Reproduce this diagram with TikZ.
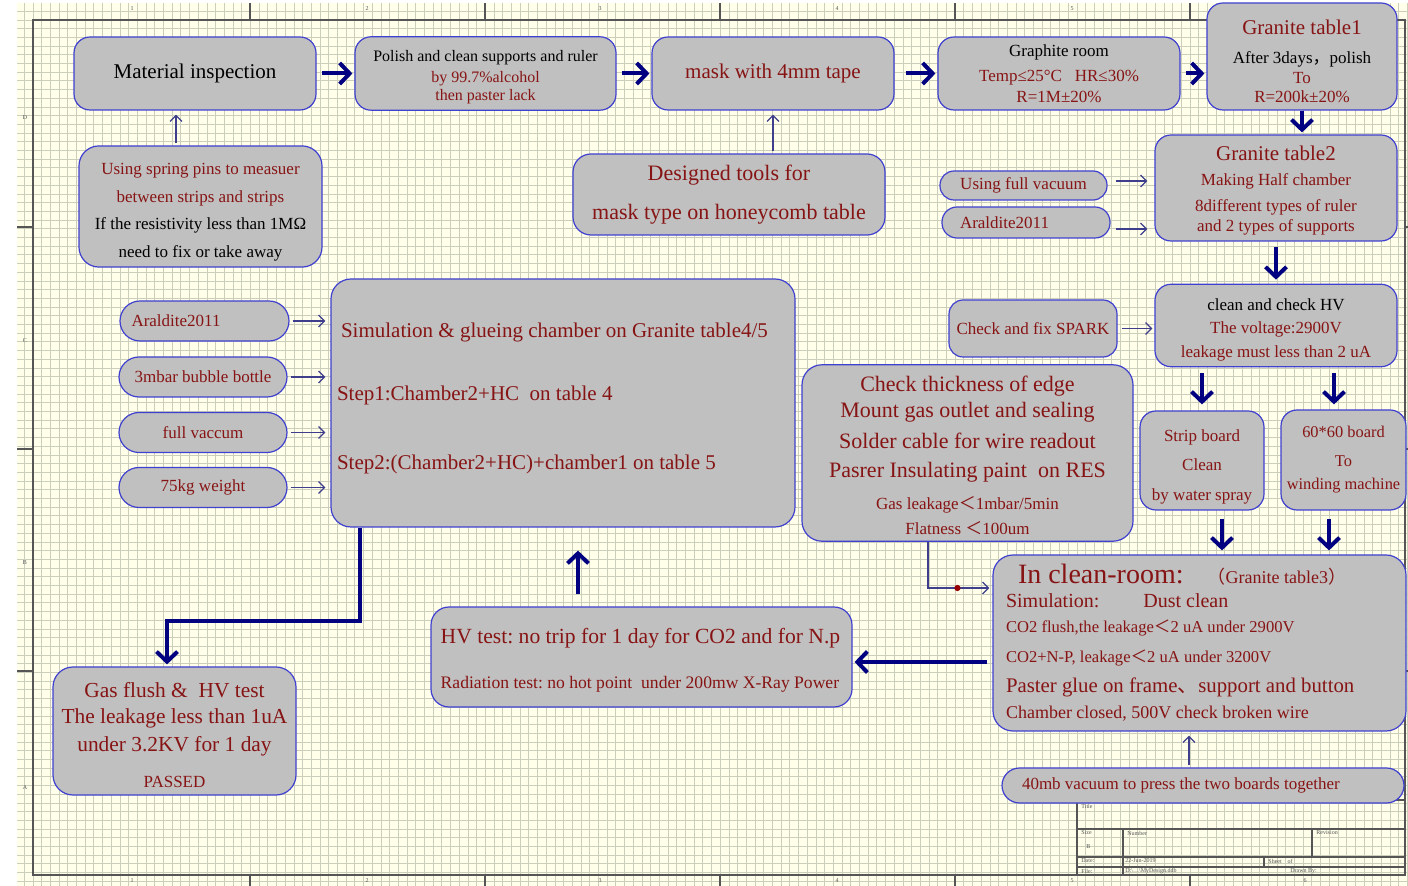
\documentclass[tikz,border=0pt]{standalone}
\usepackage{fontspec}
\setmainfont{Liberation Serif}
\newfontfamily\cjk{Noto Sans CJK SC}
\usetikzlibrary{arrows.meta,calc}
\frenchspacing

\definecolor{paper}{RGB}{255,255,234}
\definecolor{gridc}{RGB}{203,206,186}
\definecolor{sheetline}{RGB}{85,85,85}
\definecolor{boxfill}{RGB}{192,192,192}
\definecolor{boxline}{RGB}{64,64,208}
\definecolor{txtred}{RGB}{135,20,20}
\definecolor{navyarr}{RGB}{0,0,128}
\definecolor{feedc}{RGB}{62,62,140}
\definecolor{dotred}{RGB}{150,0,0}

% full-width punctuation
\newcommand\fw[1]{{\cjk #1}}

\begin{document}
\begin{tikzpicture}[x=0.5pt,y=-0.5pt,
  box/.style={draw=boxline,fill=boxfill,line width=0.6pt,rounded corners=8pt,
    align=flush center,inner sep=3pt,text=txtred},
  pill/.style={box,rounded corners=10pt,minimum width=84pt,minimum height=20pt,
    inner sep=1pt,font=\fontsize{8.5}{10}\selectfont},
  flow/.style={navyarr,line width=2pt,-{Straight Barb[length=5pt,width=10.5pt]},
    shorten <=2.5pt,shorten >=1pt},
  feed/.style={feedc,line width=0.6pt,-{Straight Barb[length=3pt,width=6pt]},
    shorten <=2pt,shorten >=2pt},
  sheet/.style={sheetline,line width=0.7pt},
  sheettext/.style={text=sheetline,font=\fontsize{3}{3.5}\selectfont,inner sep=0pt}]

% drawing sheet
\useasboundingbox (0,0) rectangle (1408,886);
\fill[white] (0,0) rectangle (1408,886);
\fill[paper] (17,3) rectangle (1408,886);
\begin{scope}[shift={(33,20)}]
  \draw[gridc,line width=0.45pt,step=4.35pt] (-16,866) grid (1375,-17);
\end{scope}
\draw[sheet] (33,20) rectangle (1405,875);
\foreach \x in {250,485,720,955,1190} {
  \draw[sheet] (\x,3) -- (\x,20);
  \draw[sheet] (\x,875) -- (\x,886);
}
\foreach \y in {227,449,671} {
  \draw[sheet] (17,\y) -- (33,\y);
  \draw[sheet] (1405,\y) -- (1408,\y);
}
\foreach \x/\n [count=\i] in {132/1,367/2,600/3,837/4,1072/5,1305/6} {
  \node[sheettext] (zt\i) at (\x,9) {\n};
  \node[sheettext] (zb\i) at (\x,881) {\n};
}
\foreach \y/\n [count=\i] in {118/D,341/C,563/B,788/A}
  \node[sheettext] (zl\i) at (25,\y) {\n};

% title block
\draw[sheet] (1077,800) rectangle (1405,875);
\draw[sheet] (1077,829) -- (1405,829) (1077,857) -- (1405,857) (1077,867) -- (1405,867)
  (1123,829) -- (1123,875) (1312,829) -- (1312,857) (1264,857) -- (1264,867);
\foreach \x/\y/\t [count=\i] in {1081/806/Title,1081/833/Size,1086/847/B,1127/833/Number,
  1316/833/Revision,1081/861/Date:,1125/861/22-Jun-2019,1268/861/{Sheet\ \ \ \ of},
  1081/871/File:,1125/871/{D:\textbackslash\ldots\textbackslash MyDesign.ddb},1290/871/{Drawn By:}}
  \node[sheettext,anchor=west] (tb\i) at (\x,\y) {\t};

% top row
\node[box,minimum width=121pt,minimum height=36.5pt,text=black,
  font=\fontsize{10.5}{12.6}\selectfont] (mat) at (195,73.5) {Material inspection};
\node[box,minimum width=130.5pt,minimum height=36.5pt,
  font=\fontsize{8}{10.5}\selectfont] (pol) at (485.5,73.5)
  {{\color{black}\rule{0pt}{9.5pt}Polish and clean supports and ruler}\\by 99.7\%alcohol\\[-1.5pt]
   then paster lack};
\node[box,minimum width=121pt,minimum height=36.5pt,
  font=\fontsize{10.5}{12.6}\selectfont] (mask) at (773,73.5) {mask with 4mm tape};
\node[box,minimum width=121pt,minimum height=36.5pt,
  font=\fontsize{8.5}{10.5}\selectfont] (graph) at (1059,73.5)
  {{\color{black}Graphite room}\\[2pt]Temp≤25°C\ \ \ HR≤30\%\\R=1M±20\%};
\node[box,minimum width=95pt,minimum height=53.5pt,
  font=\fontsize{8.5}{10}\selectfont] (gt1) at (1302,56.5)
  {{\fontsize{10.5}{12}\selectfont\rule{0pt}{12pt}Granite table1}\\[4.8pt]
   {\color{black}After 3days\fw{，}polish}\\To\\[-0.5pt]R=200k±20\%};

% right column
\node[box,minimum width=121pt,minimum height=53pt,
  font=\fontsize{8.5}{10.5}\selectfont] (gt2) at (1276,188)
  {{\fontsize{10.5}{12}\selectfont\rule{0pt}{9.5pt}Granite table2}\\[2pt]Making Half chamber\\[2.5pt]
   8different types of ruler\\[-0.5pt]and 2 types of supports};
\node[box,rounded corners=7pt,minimum width=83.5pt,minimum height=14.5pt,inner sep=1pt,
  font=\fontsize{8.5}{10}\selectfont] (vac) at (1023.5,185.5) {Using full vacuum};
\node[box,rounded corners=7.5pt,minimum width=84pt,minimum height=15.5pt,inner sep=1pt,
  text width=66pt,align=flush left,font=\fontsize{8.5}{10}\selectfont] (ara1) at (1026,222.5)
  {Araldite2011};
\node[box,minimum width=121pt,minimum height=40.5pt,
  font=\fontsize{8.5}{11.75}\selectfont] (hv) at (1276,325.5)
  {{\color{black}\rule{0pt}{9.9pt}clean and check HV}\\The voltage:2900V\\leakage must less than 2 uA};
\node[box,rounded corners=7pt,minimum width=84pt,minimum height=28.5pt,
  font=\fontsize{8.5}{10}\selectfont] (spark) at (1033,328.5) {Check and fix SPARK};
\node[box,minimum width=62pt,minimum height=49.5pt,inner xsep=1pt,
  font=\fontsize{8.5}{14.75}\selectfont] (strip) at (1202,460.5)
  {\rule{0pt}{11.9pt}Strip board\\Clean\\by water spray};
\node[box,minimum width=62.5pt,minimum height=50pt,inner xsep=1pt,
  font=\fontsize{8.2}{11.5}\selectfont] (six) at (1343.5,460)
  {60*60 board\\[3pt]To\\winding machine};

% left side
\node[box,rounded corners=10pt,minimum width=121.5pt,minimum height=58.5pt,
  font=\fontsize{8.5}{13.75}\selectfont] (pins) at (200.5,206.5)
  {\rule{0pt}{11.5pt}Using spring pins to measuer\\between strips and strips\\
   {\color{black}If the resistivity less than 1MΩ}\\{\color{black}need to fix or take away}};
\node[box,rounded corners=9pt,minimum width=156pt,minimum height=40.5pt,
  font=\fontsize{11}{19.5}\selectfont] (tools) at (729,194.5)
  {Designed tools for\\mask type on honeycomb table};
\node[pill,minimum width=84.5pt,text width=73pt,align=flush left] (ara2) at (204.5,321) {Araldite2011};
\node[pill] (bub) at (203,377) {3mbar bubble bottle};
\node[pill] (fvac) at (203,432.5) {full vaccum};
\node[pill] (wt) at (203,487.5) {75kg weight};
\node[box,rounded corners=10pt,minimum width=232pt,minimum height=124pt,
  text width=226pt,align=flush left,font=\fontsize{10.5}{12.6}\selectfont] (sim) at (563,403)
  {\hspace*{2pt}Simulation \& glueing chamber on Granite table4/5\\[19pt]
   Step1:Chamber2+HC\ \ on table 4\\[22pt]
   Step2:(Chamber2+HC)+chamber1 on table 5\rule[-7pt]{0pt}{7pt}};

% middle / bottom
\node[box,rounded corners=10pt,minimum width=165.5pt,minimum height=87pt,
  font=\fontsize{11}{13}\selectfont] (thick) at (967.5,453)
  {\rule{0pt}{10.6pt}Check thickness of edge\\Mount gas outlet and sealing\\[2.5pt]
   Solder cable for wire readout\\[1.5pt]Pasrer Insulating paint\ \ on RES\\[3pt]
   {\fontsize{8.5}{10}\selectfont Gas leakage\fw{＜}1mbar/5min}\\[-0.5pt]
   {\fontsize{8.5}{10}\selectfont Flatness \fw{＜}100um}};
\node[box,rounded corners=10pt,minimum width=206.5pt,minimum height=88pt,
  text width=193.5pt,align=flush left,font=\fontsize{10}{12}\selectfont] (clean) at (1199.5,643)
  {\hspace*{6pt}{\fontsize{14}{16}\selectfont In clean-room:}\hspace{12pt}%
   {\fontsize{9}{10}\selectfont\fw{（}Granite table3\fw{）}}\\
   Simulation:\hspace{22pt}Dust clean\\[0.5pt]
   {\fontsize{8.3}{10}\selectfont CO2 flush,the leakage\fw{＜}2 uA under 2900V}\\[3pt]
   {\fontsize{8.3}{10}\selectfont CO2+N-P, leakage\fw{＜}2 uA under 3200V}\\[3pt]
   {\fontsize{10.4}{12}\selectfont Paster glue on frame\fw{、}support and button}\\[1pt]
   {\fontsize{9}{10}\selectfont Chamber closed, 500V check broken wire}};
\node[box,rounded corners=8.75pt,minimum width=201pt,minimum height=17.5pt,inner sep=1pt,
  text width=181pt,align=flush left,font=\fontsize{8.5}{10}\selectfont] (press) at (1203,785.5)
  {40mb vacuum to press the two boards together};
\node[box,rounded corners=9pt,minimum width=210.5pt,minimum height=50pt,
  align=flush left,font=\fontsize{10.8}{13}\selectfont] (hvt) at (641.5,657)
  {\hspace*{-1pt}\rule{0pt}{11pt}HV test: no trip for 1 day for CO2 and for N.p\\[9.5pt]
   {\fontsize{8.8}{10}\selectfont\hspace*{-1pt}Radiation test: no hot point\ \ under 200mw X-Ray Power}};
\node[box,rounded corners=10pt,minimum width=121.5pt,minimum height=64pt,inner xsep=2pt,
  font=\fontsize{10.7}{13}\selectfont] (gas) at (174.5,731)
  {\rule{0pt}{11.4pt}Gas flush \&\ \ HV test\\The leakage less than 1uA\\[1pt]
   under 3.2KV for 1 day\\[5pt]{\fontsize{8.5}{10}\selectfont PASSED}};

% main flow
\draw[flow] (mat) -- (pol);
\draw[flow] (pol) -- (mask);
\draw[flow,shorten <=5.5pt] (mask) -- (graph);
\draw[flow] (graph.east) -- (graph.east -| gt1.west);
\draw[flow,shorten <=0pt] (gt1.south) -- (gt1.south |- gt2.north);
\draw[flow,shorten >=2pt] (gt2.south) -- (hv.north);
\draw[flow,shorten <=3pt,shorten >=3pt] (hv.south -| strip.north) -- (strip.north);
\coordinate (sixin) at ($(six.north)+(-9.5,0)$);
\draw[flow,shorten <=3pt,shorten >=2.5pt] (sixin |- hv.south) -- (sixin);
\coordinate (stripout) at ($(strip.south)+(20,0)$);
\draw[flow,shorten <=4pt,shorten >=2pt] (stripout) -- (stripout |- clean.north);
\coordinate (sixout) at ($(six.south)+(-14.5,0)$);
\draw[flow,shorten <=4pt,shorten >=2pt] (sixout) -- (sixout |- clean.north);
\coordinate (cleanout) at ($(clean.west)+(0,19)$);
\draw[flow] (cleanout) -- (cleanout -| hvt.east);
\coordinate (hvtout) at ($(hvt.north)+(-63.5,0)$);
\draw[flow,shorten <=6pt,shorten >=11.5pt] (hvtout) -- (hvtout |- sim.south);
\coordinate (simout) at ($(sim.south)+(-203,0)$);
\coordinate (gasin) at ($(gas.north)+(-7.5,0)$);
\draw[flow,shorten <=0pt] (simout) -- ++(0,93) -| (gasin);

% side inputs
\coordinate (pinsout) at ($(pins.north)+(-24.5,0)$);
\draw[feed,shorten <=1pt] (pinsout) -- (pinsout |- mat.south);
\coordinate (toolsout) at ($(tools.north)+(44,0)$);
\draw[feed,shorten <=1pt] (toolsout) -- (toolsout |- mask.south);
\coordinate (vacout) at ($(vac.east)+(0,-4.5)$);
\draw[feed,shorten <=4pt,shorten >=3.5pt] (vacout) -- (vacout -| gt2.west);
\coordinate (ara1out) at ($(ara1.east)+(0,6.5)$);
\draw[feed,shorten <=2.5pt,shorten >=3.5pt] (ara1out) -- (ara1out -| gt2.west);
\foreach \p in {ara2,bub,fvac,wt}
  \draw[feed,shorten <=1.5pt,shorten >=2.5pt] (\p.east) -- (\p.east -| sim.west);
\draw[feed,shorten >=1pt] (spark.east) -- (spark.east -| hv.west);
\coordinate (thickout) at ($(thick.south)+(-39.5,0)$);
\coordinate (cleanin) at ($(clean.west)+(0,-55)$);
\draw[feed,shorten <=0pt,shorten >=1.5pt] (thickout) |- (cleanin);
\node[circle,fill=dotred,inner sep=1.1pt] (jdot) at ($(cleanin)+(-35,0)$) {};
\coordinate (pressout) at ($(press.north)+(-14,0)$);
\draw[feed,shorten <=1pt] (pressout) -- (pressout |- clean.south);
\end{tikzpicture}
\end{document}
